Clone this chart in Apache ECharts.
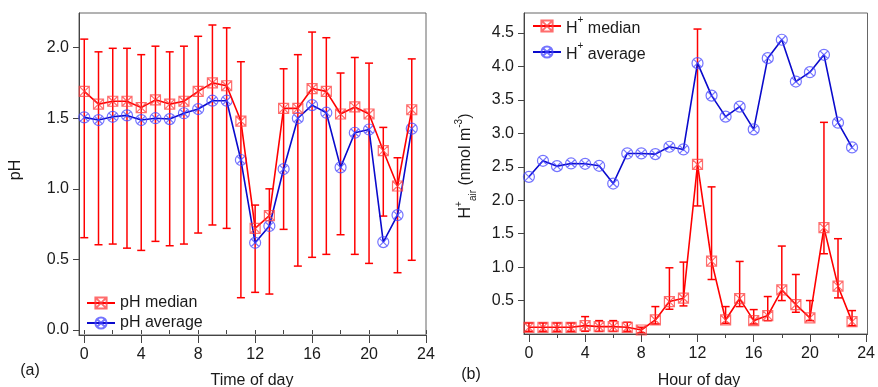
<!DOCTYPE html>
<html>
<head>
<meta charset="utf-8">
<script src="https://cdn.jsdelivr.net/npm/echarts@6/dist/echarts.min.js"></script>
<style>html,body{margin:0;padding:0;background:#fff}#c{width:878px;height:387px}</style>
</head>
<body>
<div id="c"></div>
<script>
// ---- data ----
const hours = [0,1,2,3,4,5,6,7,8,9,10,11,12,13,14,15,16,17,18,19,20,21,22,23];
const phMedian     = [1.69,1.60,1.62,1.62,1.575,1.63,1.60,1.62,1.69,1.75,1.73,1.48,0.72,0.81,1.57,1.57,1.71,1.69,1.53,1.58,1.53,1.27,1.02,1.56];
const phMedianHigh = [2.06,1.97,1.995,1.995,1.95,2.01,1.97,2.01,2.08,2.16,2.14,1.90,0.885,1.00,1.85,1.95,2.11,2.07,1.82,1.93,1.89,1.435,1.22,1.92];
const phMedianLow  = [0.654,0.604,0.609,0.58,0.564,0.628,0.597,0.609,0.687,0.744,0.72,0.229,0.267,0.255,0.713,0.453,0.515,0.536,0.675,0.536,0.472,0.807,0.406,0.494];
const phAverage    = [1.506,1.487,1.51,1.52,1.487,1.50,1.494,1.535,1.565,1.624,1.624,1.204,0.618,0.737,1.14,1.50,1.593,1.539,1.152,1.397,1.42,0.623,0.814,1.426];

const hMedian     = [0.10,0.10,0.10,0.10,0.125,0.11,0.11,0.10,0.06,0.21,0.485,0.535,2.535,1.09,0.21,0.53,0.20,0.275,0.66,0.44,0.24,1.59,0.715,0.185];
const hMedianHigh = [0.165,0.165,0.165,0.165,0.26,0.20,0.20,0.175,0.10,0.41,0.99,1.075,4.56,2.2,0.41,1.085,0.365,0.56,1.315,0.89,0.50,3.165,1.425,0.35];
const hMedianLow  = [0.04,0.04,0.04,0.04,0.04,0.04,0.04,0.04,0.02,0.15,0.37,0.42,1.915,0.815,0.16,0.41,0.15,0.20,0.50,0.325,0.20,1.20,0.54,0.125];
const hAverage    = [2.35,2.59,2.51,2.55,2.545,2.515,2.25,2.70,2.70,2.69,2.80,2.76,4.05,3.565,3.25,3.40,3.06,4.125,4.40,3.775,3.915,4.175,3.16,2.79];

const xTickLabels = [0,4,8,12,16,20,24];
const xMinorTicks = [0,2,4,6,8,10,12,14,16,18,20,22,24];
const phTicks = [0,0.5,1.0,1.5,2.0];
const hTicks = [0.5,1.0,1.5,2.0,2.5,3.0,3.5,4.0,4.5];

// ---- styles ----
const FONT = 'Liberation Sans, Arial, sans-serif';
const FS = 16;
const RED = '#ff0000', RED_M = 'rgba(255,60,60,0.75)';
const BLUE = '#0a0acc', BLUE_M = 'rgba(70,70,255,0.75)';
const SQX = 'path://M0,0 L10,0 L10,10 L0,10 Z M0,0 L10,10 M10,0 L0,10';
const CIRX = 'path://M5,0 A5,5 0 1,1 5,10 A5,5 0 1,1 5,0 Z M1.6,1.6 L8.4,8.4 M8.4,1.6 L1.6,8.4';
const AX = '#444';
const TXT = '#1a1a1a';

function pairs(v){ return hours.map((h,i)=>[h, v[i]]); }
function triples(lo, hi){ return hours.map((h,i)=>[h, lo[i], hi[i]]); }

function errRender(params, api){
  const x = api.value(0), lo = api.value(1), hi = api.value(2);
  const a = api.coord([x, lo]), b = api.coord([x, hi]);
  const w = 4;
  const st = {stroke: RED, lineWidth: 1.5};
  return {type:'group', children:[
    {type:'line', shape:{x1:a[0],y1:a[1],x2:b[0],y2:b[1]}, style:st},
    {type:'line', shape:{x1:a[0]-w,y1:a[1],x2:a[0]+w,y2:a[1]}, style:st},
    {type:'line', shape:{x1:b[0]-w,y1:b[1],x2:b[0]+w,y2:b[1]}, style:st}
  ]};
}

function mainX(gi, min, max){
  return {type:'value', gridIndex:gi, min:min, max:max, position:'bottom',
    axisLine:{show:true, onZero:false, lineStyle:{color:AX, width:1}},
    axisTick:{show:true, inside:false, length:8, customValues:xTickLabels, lineStyle:{color:AX}},
    axisLabel:{customValues:xTickLabels, margin:12, fontFamily:FONT, fontSize:FS, color:TXT},
    splitLine:{show:false}};
}
function minorX(gi, min, max){
  return {type:'value', gridIndex:gi, min:min, max:max, position:'bottom',
    axisLine:{show:false},
    axisTick:{show:true, inside:false, length:4, customValues:xMinorTicks, lineStyle:{color:AX}},
    axisLabel:{show:false}, splitLine:{show:false}};
}
function yAx(gi, min, max, ticks){
  return {type:'value', gridIndex:gi, min:min, max:max,
    axisLine:{show:true, onZero:false, lineStyle:{color:AX}},
    axisTick:{show:true, inside:false, length:6, customValues:ticks, lineStyle:{color:AX}},
    axisLabel:{customValues:ticks, margin:10, fontFamily:FONT, fontSize:FS, color:TXT,
      formatter: v => Number(v).toFixed(1)},
    splitLine:{show:false}};
}

const supRich = {
  n:{fontFamily:FONT, fontSize:FS, color:TXT, lineHeight:22, verticalAlign:'bottom'},
  sup:{fontFamily:FONT, fontSize:10, color:TXT, lineHeight:22, verticalAlign:'top'}
};

const option = {
  animation:false,
  backgroundColor:'#fff',
  grid:[
    {left:79, top:13, width:347, height:322, show:true, borderColor:'#666', borderWidth:1, containLabel:false},
    {left:524, top:13, width:345, height:321, show:true, borderColor:'#666', borderWidth:1, containLabel:false}
  ],
  xAxis:[ mainX(0,-0.37,24), minorX(0,-0.37,24), mainX(1,-0.35,24.1), minorX(1,-0.35,24.1) ],
  yAxis:[ yAx(0,-0.035,2.245,phTicks), yAx(1,0,4.8,hTicks) ],
  legend:[
    {left:86, top:295, orient:'vertical', padding:0, itemGap:4, itemWidth:28, itemHeight:14,
     data:['pH median','pH average'],
     textStyle:{fontFamily:FONT, fontSize:FS, color:TXT}},
    {left:532, top:15, orient:'vertical', padding:0, itemGap:4, itemWidth:28, itemHeight:14,
     data:['H+ median','H+ average'],
     formatter: n => n==='H+ median' ? '{n|H}{sup|+}{n| median}' : '{n|H}{sup|+}{n| average}',
     textStyle:{fontFamily:FONT, fontSize:FS, color:TXT, rich:supRich}}
  ],
  series:[
    {type:'custom', name:'pH median error', xAxisIndex:0, yAxisIndex:0, renderItem:errRender,
     encode:{x:0, y:[1,2]}, data:triples(phMedianLow, phMedianHigh), z:1, silent:true},
    {type:'line', name:'pH median', xAxisIndex:0, yAxisIndex:0, data:pairs(phMedian),
     symbol:SQX, symbolSize:10, showAllSymbol:true,
     lineStyle:{color:RED, width:1.6}, itemStyle:{color:'rgba(255,255,255,0)', borderColor:RED_M, borderWidth:1.2}, z:3},
    {type:'line', name:'pH average', xAxisIndex:0, yAxisIndex:0, data:pairs(phAverage),
     symbol:CIRX, symbolSize:11, showAllSymbol:true,
     lineStyle:{color:BLUE, width:1.6}, itemStyle:{color:'rgba(255,255,255,0)', borderColor:BLUE_M, borderWidth:1.2}, z:2},

    {type:'custom', name:'H+ median error', xAxisIndex:2, yAxisIndex:1, renderItem:errRender,
     encode:{x:0, y:[1,2]}, data:triples(hMedianLow, hMedianHigh), z:1, silent:true},
    {type:'line', name:'H+ median', xAxisIndex:2, yAxisIndex:1, data:pairs(hMedian),
     symbol:SQX, symbolSize:10, showAllSymbol:true,
     lineStyle:{color:RED, width:1.6}, itemStyle:{color:'rgba(255,255,255,0)', borderColor:RED_M, borderWidth:1.2}, z:3},
    {type:'line', name:'H+ average', xAxisIndex:2, yAxisIndex:1, data:pairs(hAverage),
     symbol:CIRX, symbolSize:11, showAllSymbol:true,
     lineStyle:{color:BLUE, width:1.6}, itemStyle:{color:'rgba(255,255,255,0)', borderColor:BLUE_M, borderWidth:1.2}, z:2}
  ],
  graphic:[
    {type:'text', x:16, y:170, rotation:Math.PI/2,
     style:{text:'pH', font:FS+'px '+FONT, fill:TXT, align:'center', verticalAlign:'middle'}},
    {type:'text', x:30, y:371,
     style:{text:'(a)', font:FS+'px '+FONT, fill:TXT, align:'center', verticalAlign:'middle'}},
    {type:'text', x:252, y:381,
     style:{text:'Time of day', font:FS+'px '+FONT, fill:TXT, align:'center', verticalAlign:'middle'}},
    {type:'text', x:471, y:375,
     style:{text:'(b)', font:FS+'px '+FONT, fill:TXT, align:'center', verticalAlign:'middle'}},
    {type:'text', x:699, y:381,
     style:{text:'Hour of day', font:FS+'px '+FONT, fill:TXT, align:'center', verticalAlign:'middle'}},
    {type:'text', x:466, y:166, rotation:Math.PI/2,
     style:{text:'{n|H}{sup|+}{sub|air}{n| (nmol m}{sup|-3}{n|)}', align:'center', verticalAlign:'middle',
       rich:{
         n:{fontFamily:FONT, fontSize:FS, fill:TXT, lineHeight:24, verticalAlign:'middle'},
         sup:{fontFamily:FONT, fontSize:10, fill:TXT, lineHeight:24, verticalAlign:'top'},
         sub:{fontFamily:FONT, fontSize:10, fill:TXT, lineHeight:24, verticalAlign:'bottom'}
       }}}
  ]
};
const chart = echarts.init(document.getElementById('c'), null, {renderer:'canvas'});
chart.setOption(option);
</script>
</body>
</html>
